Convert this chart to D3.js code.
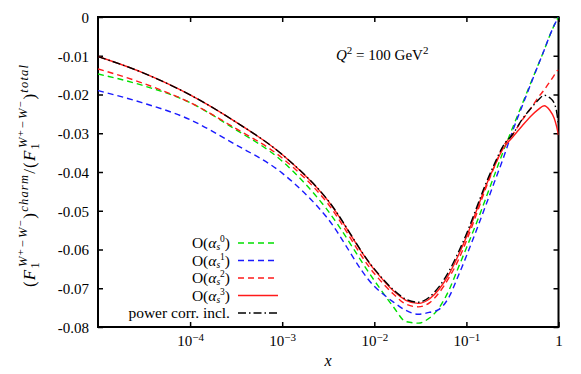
<!DOCTYPE html>
<html>
<head>
<meta charset="utf-8">
<script src="https://cdn.jsdelivr.net/npm/d3@7"></script>
<style>
  body { margin: 0; background: #fff; }
  svg { display: block; font-family: "Liberation Serif", "DejaVu Serif", serif; }
</style>
</head>
<body>
<div id="chart"></div>
<script>
// x values (log axis)
const xs = [1e-5, 3e-5, 1e-4, 3e-4, 1e-3, 3e-3, 0.01, 0.016, 0.022, 0.03, 0.04, 0.05, 0.065, 0.08,
  0.1, 0.13, 0.16, 0.2, 0.25, 0.32, 0.4, 0.5, 0.6, 0.7, 0.8, 0.9, 0.95, 1];

// ratio values
const order0 = [-0.0147, -0.0176, -0.0221, -0.0288, -0.0372, -0.0494, -0.0680, -0.0747, -0.0786, -0.0790,
  -0.0776, -0.0752, -0.0704, -0.0652, -0.0596, -0.0529, -0.0472, -0.0410, -0.0348, -0.0284, -0.0227,
  -0.0170, -0.0124, -0.0085, -0.0049, -0.0021, -0.0010, 0];
const order1 = [-0.0190, -0.0221, -0.0265, -0.0327, -0.0403, -0.0515, -0.0695, -0.0735, -0.0757, -0.0767,
  -0.0762, -0.0755, -0.0722, -0.0673, -0.0617, -0.0547, -0.0490, -0.0428, -0.0366, -0.0292, -0.0232,
  -0.0173, -0.0125, -0.0085, -0.0049, -0.0021, -0.0010, 0];
const order2 = [-0.0134, -0.0170, -0.0221, -0.0285, -0.0364, -0.0476, -0.0662, -0.0714, -0.0741, -0.0748,
  -0.0737, -0.0713, -0.0672, -0.0632, -0.0578, -0.0506, -0.0446, -0.0388, -0.0335, -0.0302, -0.0267,
  -0.0236, -0.0208, -0.0188, -0.0168, -0.0150, -0.0140, -0.0137];
const order3 = [-0.0102, -0.0143, -0.0201, -0.0268, -0.0355, -0.0468, -0.0652, -0.0706, -0.0731, -0.0739,
  -0.0727, -0.0704, -0.0663, -0.0620, -0.0568, -0.0497, -0.0440, -0.0387, -0.0340, -0.0309, -0.0282,
  -0.0256, -0.0239, -0.0229, -0.0240, -0.0262, -0.0281, -0.0305];
const powerCorr = [-0.0102, -0.0143, -0.0201, -0.0268, -0.0355, -0.0467, -0.0650, -0.0703, -0.0728, -0.0736,
  -0.0722, -0.0697, -0.0655, -0.0612, -0.0560, -0.0490, -0.0434, -0.0381, -0.0333, -0.0302, -0.0265,
  -0.0236, -0.0215, -0.0202, -0.0208, -0.0223, -0.0242, -0.0279];

const xTicks = [1e-4, 1e-3, 1e-2, 1e-1, 1];
const xTickExp = ["−4", "−3", "−2", "−1", null];
const yTicks = [0, -0.01, -0.02, -0.03, -0.04, -0.05, -0.06, -0.07, -0.08];
const yTickLabels = ["0", "-0.01", "-0.02", "-0.03", "-0.04", "-0.05", "-0.06", "-0.07", "-0.08"];

const series = [
  {sup: "0", values: order0, color: "#00e000", dash: "6,4"},
  {sup: "1", values: order1, color: "#1a1aff", dash: "6,4"},
  {sup: "2", values: order2, color: "#ff1a1a", dash: "6,4"},
  {sup: "3", values: order3, color: "#ff1a1a", dash: null},
  {sup: null, values: powerCorr, color: "#000000", dash: "8,3,1.5,3"}
];

const width = 581, height = 374;
const plotLeft = 98, plotRight = 558.5, plotTop = 17, plotBottom = 327;
const serif = "'Liberation Serif', 'DejaVu Serif', serif";

const svg = d3.select("#chart").append("svg")
  .attr("width", width)
  .attr("height", height);

const x = d3.scaleLog().domain([1e-5, 1]).range([plotLeft, plotRight]);
const y = d3.scaleLinear().domain([-0.08, 0]).range([plotBottom, plotTop]);

svg.append("clipPath").attr("id", "plotclip")
  .append("rect")
  .attr("x", plotLeft).attr("y", plotTop)
  .attr("width", plotRight - plotLeft).attr("height", plotBottom - plotTop);

// axes, ticks pointing inward
const gx = svg.append("g")
  .attr("transform", `translate(0,${plotBottom})`)
  .call(d3.axisBottom(x).tickValues(xTicks).tickSize(-5).tickPadding(8).tickFormat(""));
const gxTop = svg.append("g")
  .attr("transform", `translate(0,${plotTop})`)
  .call(d3.axisTop(x).tickValues(xTicks).tickSize(-5).tickFormat(""));
const gy = svg.append("g")
  .attr("transform", `translate(${plotLeft},0)`)
  .call(d3.axisLeft(y).tickValues(yTicks).tickSize(-5).tickPadding(9)
    .tickFormat((d, i) => yTickLabels[i]));
const gyRight = svg.append("g")
  .attr("transform", `translate(${plotRight},0)`)
  .call(d3.axisRight(y).tickValues(yTicks).tickSize(-5).tickFormat(""));

[gx, gxTop, gy, gyRight].forEach(g => {
  g.attr("font-family", serif).attr("font-size", 15);
  g.select(".domain").remove();
  g.selectAll(".tick line").attr("stroke", "#000").attr("stroke-width", 1.5);
});
gy.selectAll(".tick text").attr("dy", "0.35em");

// 10^n labels on the x axis
gx.selectAll(".tick text").each(function(d, i) {
  const t = d3.select(this);
  t.text("");
  if (xTickExp[i] === null) {
    t.text("1");
    return;
  }
  t.append("tspan").text("10");
  t.append("tspan").attr("dy", "-0.45em").style("font-size", "11px").text(xTickExp[i]);
});

// frame
svg.append("rect")
  .attr("x", plotLeft).attr("y", plotTop)
  .attr("width", plotRight - plotLeft).attr("height", plotBottom - plotTop)
  .attr("fill", "none").attr("stroke", "#000").attr("stroke-width", 2);

const line = d3.line()
  .x((d, i) => x(xs[i]))
  .y(d => y(d))
  .curve(d3.curveMonotoneX);

svg.append("g").attr("clip-path", "url(#plotclip)")
  .selectAll("path")
  .data(series)
  .join("path")
  .attr("d", d => line(d.values))
  .attr("fill", "none")
  .attr("stroke", d => d.color)
  .attr("stroke-width", 1.4)
  .attr("stroke-dasharray", d => d.dash);

// legend
const legendX = 230, legendY0 = 243, legendStep = 17.5;
const legend = svg.append("g");
series.forEach((s, i) => {
  const yy = legendY0 + i * legendStep;
  const t = legend.append("text")
    .attr("x", legendX).attr("y", yy + 5)
    .attr("text-anchor", "end")
    .style("font-size", "15.5px");
  if (s.sup === null) {
    t.text("power corr. incl.");
  } else {
    t.append("tspan").text("O(");
    t.append("tspan").style("font-style", "italic").text("α");
    t.append("tspan").attr("dy", 2).style("font-size", "9.5px").style("font-style", "italic").text("s");
    t.append("tspan").attr("dy", -8).style("font-size", "9.5px").text(s.sup);
    t.append("tspan").attr("dy", 6).text(")");
  }
  legend.append("line")
    .attr("x1", 238).attr("x2", 278)
    .attr("y1", yy).attr("y2", yy)
    .attr("stroke", s.color)
    .attr("stroke-width", 1.4)
    .attr("stroke-dasharray", s.dash);
});

// annotation
const ann = svg.append("text")
  .attr("x", 336).attr("y", 60)
  .style("font-size", "15px");
ann.append("tspan").style("font-style", "italic").text("Q");
ann.append("tspan").attr("dy", -6).style("font-size", "11px").text("2");
ann.append("tspan").attr("dy", 6).text(" = 100 GeV");
ann.append("tspan").attr("dy", -6).style("font-size", "11px").text("2");

// x label
svg.append("text")
  .attr("x", 328).attr("y", 366)
  .attr("text-anchor", "middle")
  .style("font-size", "16px")
  .style("font-style", "italic")
  .text("x");

// y label
const yl = svg.append("text")
  .attr("transform", "translate(35,176) rotate(-90)")
  .attr("text-anchor", "middle")
  .attr("textLength", 222)
  .attr("lengthAdjust", "spacing")
  .style("font-size", "17px");
function fPart(t) {
  t.append("tspan").text("(");
  t.append("tspan").style("font-style", "italic").text("F");
  t.append("tspan").attr("dy", 4).style("font-size", "12.5px").text("1");
  t.append("tspan").attr("dx", -6).attr("dy", -12).style("font-size", "12.5px")
    .style("font-style", "italic").text("W⁺−W⁻");
  t.append("tspan").attr("dy", 8).text(")");
}
fPart(yl);
yl.append("tspan").attr("dy", -7).style("font-size", "12.5px").style("font-style", "italic").text("charm");
yl.append("tspan").attr("dy", 7).text("/");
fPart(yl);
yl.append("tspan").attr("dy", -7).style("font-size", "12.5px").style("font-style", "italic").text("total");
</script>
</body>
</html>
